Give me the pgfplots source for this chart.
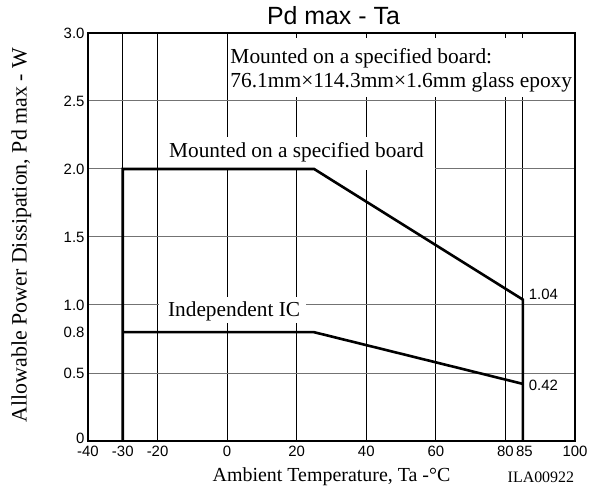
\documentclass[border=0pt]{standalone}
\usepackage{pgfplots}
\pgfplotsset{compat=1.18}
\usepackage{fontspec}
\setmainfont{Liberation Serif}
\newfontfamily\sans{Liberation Sans}

\begin{document}
\begin{tikzpicture}
\begin{axis}[
    name=main,
    scale only axis,
    width=487bp, height=408bp,
    xmin=-40, xmax=100, ymin=0, ymax=3,
    xtick={-40,-30,-20,0,20,40,60,80,85,100},
    xticklabels={-40,-30,-20,0,20,40,60,{80\hspace{3bp}},{\hspace{3bp}85},100},
    ytick={0,0.5,1.0,1.5,2.0,2.5,3.0},
    yticklabels={{\raisebox{6bp}{0}},0.5,1.0,1.5,2.0,2.5,3.0},
    extra y ticks={0.8}, extra y tick labels={0.8},
    extra y tick style={grid=none},
    grid=major,
    x grid style={black, line width=0.8bp},
    y grid style={black!55, line width=1bp},
    tick style={draw=none},
    axis line style={line width=1.2bp},
    ticklabel style={font=\sans\fontsize{15}{18}\selectfont},
    xticklabel style={yshift=-2bp},
    /pgf/number format/assume math mode=true,
    xlabel={Ambient Temperature, Ta -°C},
    xlabel style={font=\fontsize{20}{24}\selectfont,
        at={(axis description cs:0.5,-0.088)}, anchor=center},
    ylabel={Allowable Power Dissipation, Pd max - W},
    ylabel style={font=\fontsize{22}{26}\selectfont,
        at={(axis description cs:-0.137,0.505)}, anchor=center},
    clip=false,
]
% white patches behind the labels
\fill[white] (axis cs:0.35,2.53) rectangle (axis cs:99.7,2.963);
\fill[white] (axis cs:-19.5,1.99) rectangle (axis cs:59.7,2.235);
\fill[white] (axis cs:-19.6,0.87) rectangle (axis cs:22.6,1.06);

% mounted on board
\addplot[black, line width=2.6bp, line join=miter] coordinates {
    (-30,0) (-30,2.0) (25,2.0) (85,1.04) (85,0)
};
% independent IC
\addplot[black, line width=2.6bp, line join=miter] coordinates {
    (-30,0.8) (25,0.8) (85,0.42)
};

\node[anchor=base, font=\sans\fontsize{25}{28}\selectfont, inner sep=0pt]
    at (axis description cs:0.504,1.0196) {Pd max - Ta};
\node[anchor=base west, inner sep=0pt, font=\fontsize{21.5}{25}\selectfont]
    at (axis cs:0.9,2.779) {Mounted on a specified board:};
\node[anchor=base west, inner sep=0pt, font=\fontsize{21.5}{25}\selectfont]
    at (axis cs:0.9,2.596) {76.1mm×114.3mm×1.6mm glass epoxy};
\node[anchor=base, font=\fontsize{21.4}{25}\selectfont, inner sep=0pt] at (axis cs:19.93,2.081) {Mounted on a specified board};
\node[anchor=base, font=\fontsize{21.4}{25}\selectfont, inner sep=0pt] at (axis cs:2.0,0.912) {Independent IC};
\node[anchor=base west, inner sep=0pt, font=\sans\fontsize{15}{18}\selectfont] at (axis cs:86.7,1.037) {1.04};
\node[anchor=base west, inner sep=0pt, font=\sans\fontsize{15}{18}\selectfont] at (axis cs:86.7,0.375) {0.42};
\node[font=\fontsize{16}{19}\selectfont] at (axis description cs:0.93,-0.088) {ILA00922};
\end{axis}
\pgfresetboundingbox
\path ([xshift=-88bp,yshift=-52bp]main.south west) rectangle ([xshift=28bp,yshift=33bp]main.north east);
\end{tikzpicture}
\end{document}
